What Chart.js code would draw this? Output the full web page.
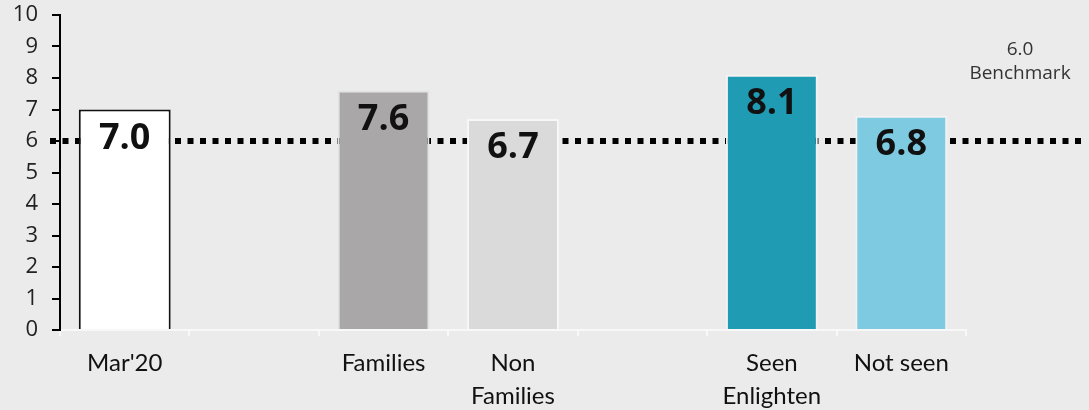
<!DOCTYPE html>
<html>
<head>
<meta charset="utf-8">
<script src="https://cdn.jsdelivr.net/npm/chart.js@4/dist/chart.umd.min.js"></script>
<style>
  html, body { margin: 0; padding: 0; background: #ebebeb; }
  #wrap { width: 1089px; height: 410px; }
</style>
</head>
<body>
<div id="wrap"><canvas id="chart" width="1089" height="410"></canvas></div>
<script>
// chart values
const categories = [["Mar'20"], "", "Families", ["Non", "Families"], "", ["Seen", "Enlighten"], "Not seen"];
const scores = [7.0, null, 7.6, 6.7, null, 8.1, 6.8];
const benchmark = 6.0;
const benchmarkLabel = ["6.0", "Benchmark"];
const yMin = 0;
const yMax = 10;

// bar styles
const barColors = ['#ffffff', null, '#a9a7a7', '#dadada', null, '#1f9cb4', '#7ecbe1'];
const barBorders = ['#111111', null, '#e2e2e2', '#f7f7f7', null, '#f2f2f2', '#f2f2f2'];

const bgPlugin = {
    id: 'bg',
    beforeDraw: (chart) => {
        const ctx = chart.ctx;
        ctx.save();
        ctx.fillStyle = '#ebebeb';
        ctx.fillRect(0, 0, chart.width, chart.height);
        ctx.restore();
    }
};

// dotted benchmark line behind the bars, with its label on the right
const benchmarkPlugin = {
    id: 'benchmark',
    beforeDatasetsDraw: (chart) => {
        const ctx = chart.ctx;
        const y = chart.scales.y.getPixelForValue(benchmark);
        ctx.save();
        ctx.strokeStyle = '#000';
        ctx.lineWidth = 6;
        ctx.setLineDash([6, 6.5]);
        ctx.beginPath();
        ctx.moveTo(50, y);
        ctx.lineTo(chart.width - 2, y);
        ctx.stroke();
        ctx.setLineDash([]);
        ctx.fillStyle = '#333';
        ctx.font = '19px "Open Sans"';
        ctx.textAlign = 'center';
        ctx.textBaseline = 'middle';
        ctx.fillText(benchmarkLabel[0], 1020, 50);
        ctx.fillText(benchmarkLabel[1], 1020, 74);
        ctx.restore();
    }
};

const valueLabels = {
    id: 'valueLabels',
    afterDatasetsDraw: (chart) => {
        const ctx = chart.ctx;
        const meta = chart.getDatasetMeta(0);
        ctx.save();
        ctx.fillStyle = '#111';
        ctx.font = 'bold 36px "Open Sans"';
        ctx.textAlign = 'center';
        ctx.textBaseline = 'middle';
        meta.data.forEach((bar, i) => {
            if (scores[i] == null) return;
            ctx.fillText(scores[i].toFixed(1), bar.x, bar.y + 29);
        });
        ctx.restore();
    }
};

new Chart(document.getElementById('chart'), {
    type: 'bar',
    data: {
        labels: categories,
        datasets: [{
            data: scores,
            backgroundColor: barColors,
            borderColor: barBorders,
            borderWidth: 2,
            barPercentage: 0.71,
            categoryPercentage: 1.0
        }]
    },
    options: {
        responsive: false,
        animation: false,
        layout: { padding: { top: 15, right: 123, left: 0, bottom: 0 } },
        plugins: {
            legend: { display: false },
            tooltip: { enabled: false }
        },
        scales: {
            x: {
                afterFit: (scale) => { scale.height = 80; },
                border: { color: '#f8f8f8', width: 2 },
                grid: { drawOnChartArea: false, drawTicks: true, tickLength: 6, color: '#f8f8f8', lineWidth: 2 },
                ticks: {
                    color: '#111',
                    font: { family: 'Lato', size: 24, lineHeight: 1.38 },
                    padding: 11,
                    maxRotation: 0,
                    autoSkip: false
                }
            },
            y: {
                min: yMin,
                max: yMax,
                afterFit: (scale) => {
                    scale.width = 60;
                    scale.paddingTop = 0;
                    scale.paddingBottom = 0;
                },
                border: { color: '#000', width: 2 },
                grid: { drawOnChartArea: false, drawTicks: true, tickLength: 8, color: '#000', lineWidth: 2 },
                ticks: {
                    stepSize: 1,
                    color: '#222',
                    padding: 14,
                    font: { family: 'Open Sans', size: 22 }
                }
            }
        }
    },
    plugins: [bgPlugin, benchmarkPlugin, valueLabels]
});
</script>
</body>
</html>
